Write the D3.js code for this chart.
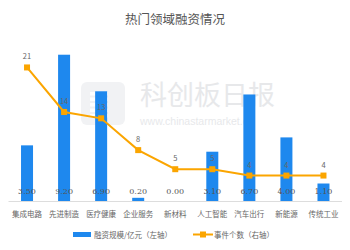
<!DOCTYPE html>
<html>
<head>
<meta charset="utf-8">
<script src="https://cdn.jsdelivr.net/npm/d3@7"></script>
<style>
  html, body { margin: 0; padding: 0; background: #fff; }
  svg { display: block; font-family: "Noto Sans CJK SC", "Noto Sans", sans-serif; }
</style>
</head>
<body>
<div id="chart"></div>
<script>
const categories = ["集成电路", "先进制造", "医疗健康", "企业服务", "新材料", "人工智能", "汽车出行", "新能源", "传统工业"];
const funding = [3.50, 9.20, 6.90, 0.20, 0.00, 3.10, 6.70, 4.00, 1.10];
const events = [21, 14, 13, 8, 5, 5, 4, 4, 4];

const width = 350, height = 250;
const margin = { left: 8.5, right: 8, top: 42, bottom: 49 };
const baseY = height - margin.bottom;

const svg = d3.select("#chart").append("svg")
    .attr("width", width)
    .attr("height", height);

// watermark
const wm = svg.append("g").attr("opacity", 0.55);
wm.append("rect")
    .attr("x", 81).attr("y", 82).attr("width", 44).attr("height", 43)
    .attr("rx", 6).attr("fill", "#e6e8ec");
[0, 1, 2, 3, 4].forEach(i => {
    wm.append("rect").attr("x", 90).attr("y", 92 + i * 5.5).attr("width", 18).attr("height", 3.5).attr("fill", "#fff");
});
wm.append("text")
    .attr("x", 140).attr("y", 105)
    .attr("font-size", 27).attr("fill", "#d4d6da")
    .attr("font-family", "Noto Sans CJK SC")
    .text("科创板日报");
wm.append("text")
    .attr("x", 140).attr("y", 125)
    .attr("font-size", 10.5).attr("fill", "#d4d6da")
    .attr("font-family", "Liberation Sans, sans-serif")
    .text("www.chinastarmarket.cn");

// title
svg.append("text")
    .attr("x", width / 2).attr("y", 24)
    .attr("text-anchor", "middle")
    .attr("font-size", 12.5)
    .attr("fill", "#555")
    .text("热门领域融资情况");

const x = d3.scaleBand()
    .domain(categories)
    .range([margin.left, width - margin.right]);

const yLeft = d3.scaleLinear().domain([0, 10]).range([baseY, margin.top]);
const yRight = d3.scaleLinear().domain([0, 25]).range([baseY, margin.top]);

const barW = 12;

// bars
svg.append("g")
    .selectAll("rect")
    .data(funding)
    .join("rect")
    .attr("x", (d, i) => x(categories[i]) + x.bandwidth() / 2 - barW / 2)
    .attr("y", d => yLeft(d))
    .attr("width", barW)
    .attr("height", d => baseY - yLeft(d))
    .attr("fill", "#1e88ee");

// x axis line
svg.append("line")
    .attr("x1", margin.left).attr("x2", width - margin.right)
    .attr("y1", baseY + 0.5).attr("y2", baseY + 0.5)
    .attr("stroke", "#ddd");

// bar value labels
svg.append("g")
    .selectAll("text")
    .data(funding)
    .join("text")
    .attr("x", (d, i) => x(categories[i]) + x.bandwidth() / 2)
    .attr("y", baseY - 7)
    .attr("text-anchor", "middle")
    .attr("font-size", 8)
    .attr("font-family", "DejaVu Serif, serif")
    .attr("fill", "#555")
    .text(d => d.toFixed(2));

// category labels
svg.append("g")
    .selectAll("text")
    .data(categories)
    .join("text")
    .attr("x", d => x(d) + x.bandwidth() / 2)
    .attr("y", baseY + 16)
    .attr("text-anchor", "middle")
    .attr("font-size", 7.5)
    .attr("fill", "#666")
    .text(d => d);

// line
const cx = (d, i) => x(categories[i]) + x.bandwidth() / 2;
const line = d3.line().x(cx).y(d => yRight(d));

svg.append("path")
    .datum(events)
    .attr("d", line)
    .attr("fill", "none")
    .attr("stroke", "#fba500")
    .attr("stroke-width", 2);

svg.append("g")
    .selectAll("rect")
    .data(events)
    .join("rect")
    .attr("x", (d, i) => cx(d, i) - 3)
    .attr("y", d => yRight(d) - 3)
    .attr("width", 6).attr("height", 6)
    .attr("fill", "#fba500");

svg.append("g")
    .selectAll("text")
    .data(events)
    .join("text")
    .attr("x", cx)
    .attr("y", d => yRight(d) - 8)
    .attr("text-anchor", "middle")
    .attr("font-size", 7.5)
    .attr("fill", "#666")
    .text(d => d);

// legend
const lg = svg.append("g").attr("font-size", 7.5).attr("fill", "#666");
lg.append("rect").attr("x", 73).attr("y", 232).attr("width", 18).attr("height", 5).attr("fill", "#1e88ee");
lg.append("text").attr("x", 94).attr("y", 237.5).text("融资规模/亿元（左轴）");
lg.append("line").attr("x1", 193).attr("x2", 213).attr("y1", 234.5).attr("y2", 234.5)
    .attr("stroke", "#fba500").attr("stroke-width", 2);
lg.append("rect").attr("x", 200).attr("y", 231.5).attr("width", 6).attr("height", 6).attr("fill", "#fba500");
lg.append("text").attr("x", 214).attr("y", 237.5).text("事件个数（右轴）");
</script>
</body>
</html>
